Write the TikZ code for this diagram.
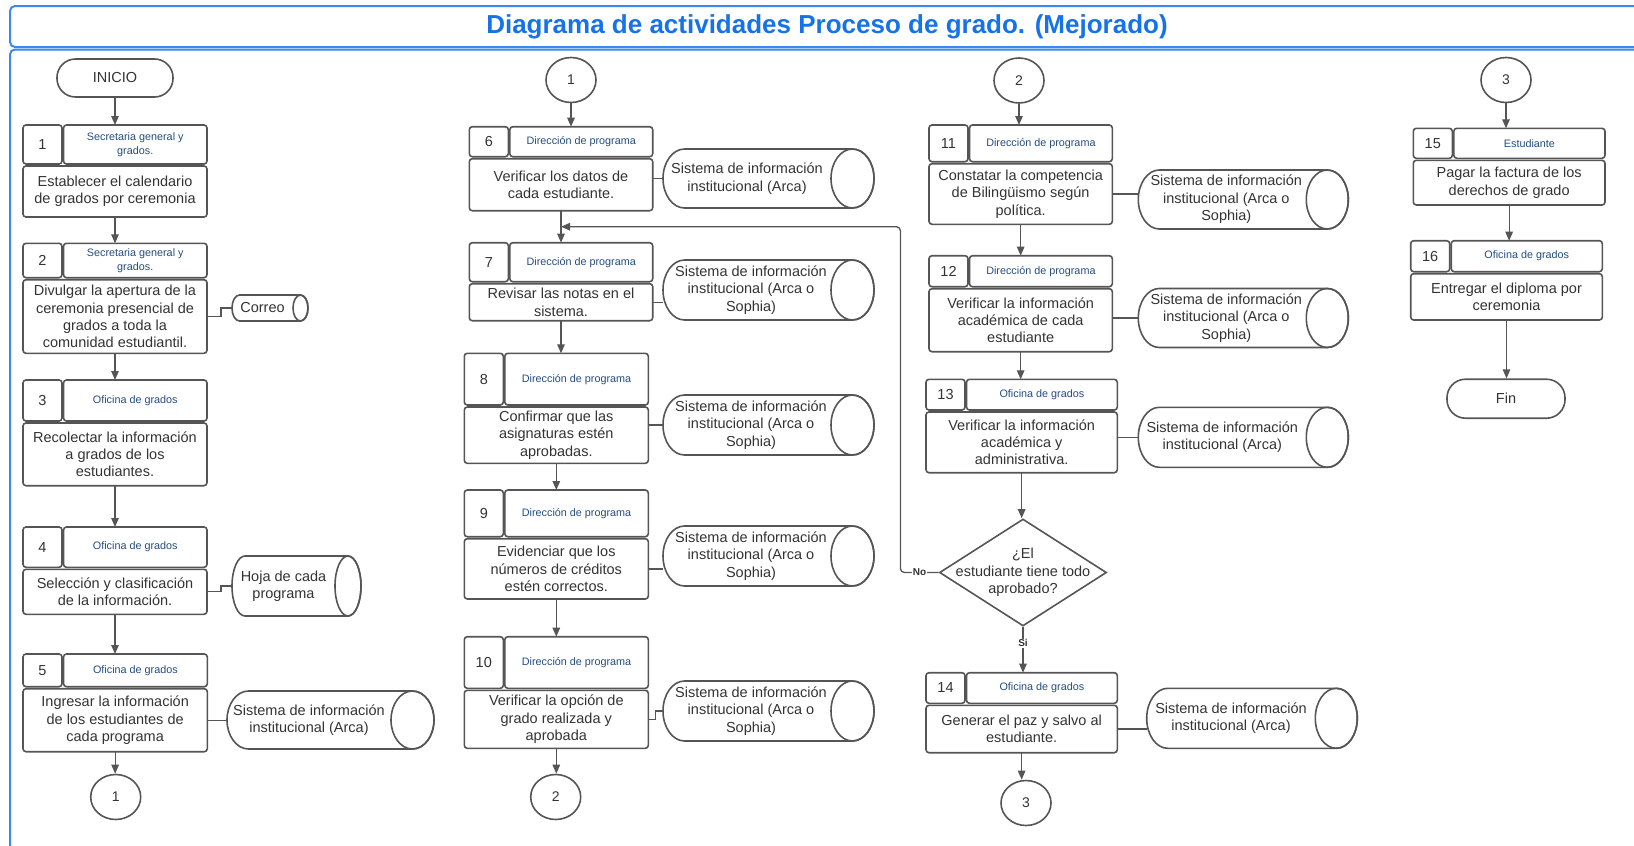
\documentclass[tikz,border=0pt]{standalone}
\usepackage{fontspec}
\setmainfont{Liberation Sans}
\usetikzlibrary{arrows.meta,shapes.geometric,calc}

\definecolor{frameblue}{RGB}{59,137,238}
\definecolor{titleblue}{RGB}{22,114,232}
\definecolor{headblue}{RGB}{36,77,128}
\definecolor{edge}{RGB}{85,85,85}
\definecolor{ink}{RGB}{51,51,51}

\tikzset{
  cell/.style={draw=edge, line width=1.6pt, rounded corners=3pt, inner sep=0pt, outer sep=0pt, fill=white},
  numcell/.style={cell, text=ink, font=\fontsize{14.5}{17}\selectfont},
  headcell/.style={cell, text=headblue, align=center, font=\fontsize{10.8}{14}\selectfont},
  bodycell/.style={cell, text=ink, align=center, font=\fontsize{14.5}{17.3}\selectfont},
  conn/.style={draw=edge, line width=1.3pt},
  flow/.style={conn, -{Triangle[length=9pt,width=7.5pt]}},
  terminal/.style={draw=edge, line width=1.6pt, rounded corners=18.5pt, inner sep=0pt,
    minimum width=116pt, minimum height=38pt, text=ink, font=\fontsize{14.5}{17}\selectfont},
  offpage/.style={ellipse, draw=edge, line width=1.6pt, inner sep=0pt,
    minimum width=50pt, minimum height=45pt, text=ink, font=\fontsize{14}{17}\selectfont},
  decision/.style={diamond, draw=edge, line width=1.6pt, inner sep=0pt,
    minimum width=167pt, minimum height=107pt},
  decisiontext/.style={align=center, text=ink, inner sep=0pt, font=\fontsize{14.5}{17.5}\selectfont},
  storebox/.style={draw=none, inner sep=0pt, outer sep=0pt},
  storeline/.style={draw=edge, line width=1.6pt},
  storetext/.style={align=center, text=ink, inner sep=0pt, font=\fontsize{14.5}{17.5}\selectfont},
  branch/.style={fill=white, inner sep=1pt, text=ink, font=\bfseries\fontsize{10}{12}\selectfont},
  frameline/.style={draw=frameblue, line width=2pt, rounded corners=5pt},
  title/.style={text=titleblue, font=\bfseries\fontsize{26}{30}\selectfont, inner sep=0pt}
}

% activity: name, left, right, header top, header bottom, body bottom, number, role, task
\newcommand{\activity}[9]{%
  \node[numcell, minimum width=39pt, minimum height={(#5-#4)*1pt}]
    (#1n) at ({#2+19.5},{(#4+#5)/2}) {#7};
  \node[headcell, minimum width={(#3-#2-40.5)*1pt}, minimum height={(#5-#4)*1pt}]
    (#1h) at ({(#2+40.5+#3)/2},{(#4+#5)/2}) {#8};
  \node[bodycell, minimum width={(#3-#2)*1pt}, minimum height={(#6-#5-2)*1pt}]
    (#1) at ({(#2+#3)/2},{(#5+2+#6)/2}) {#9};
}

% data store drawn as a lying cylinder:
% name, cx, cy, width, height, end radius, text shift, text
\newcommand{\datastore}[8]{%
  \node[storebox, minimum width=#4pt, minimum height=#5pt] (#1) at (#2,#3) {};
  \draw[storeline] ([xshift=#6pt]#1.north west) -- ([xshift=-#6pt]#1.north east)
    arc[start angle=90, end angle=-90, x radius=#6pt, y radius={#5/2*1pt}]
    -- ([xshift=#6pt]#1.south west)
    arc[start angle=270, end angle=90, x radius=#6pt, y radius={#5/2*1pt}] -- cycle;
  \draw[storeline] ([xshift=-#6pt]#1.east) ellipse[x radius=#6pt, y radius={#5/2*1pt}];
  \node[storetext] (#1t) at ([xshift={(#7-#6)*1pt}]#1.center) {#8};
}

\newcommand{\arca}{Sistema de información\\institucional (Arca)}
\newcommand{\arcasophia}{Sistema de información\\institucional (Arca o\\Sophia)}

\begin{document}
\begin{tikzpicture}[x=1pt, y=-1pt]
\useasboundingbox (0,0) rectangle (1634,846);

% page frame
\begin{scope}
  \clip (0,0) rectangle (1634,846);
  \draw[frameline] (10,6) rectangle (1680,47);
  \draw[frameline] (10,49.5) rectangle (1680,900);
\end{scope}
\node[title] (ttl) at (827,27) {Diagrama de actividades Proceso de grado. (Mejorado)};

% ---------- column 1 ----------
\node[terminal] (ini) at (115,78) {INICIO};
\activity{b1}{23}{207}{125}{164}{217}{1}{Secretaria general y\\grados.}{Establecer el calendario\\de grados por ceremonia}
\activity{b2}{23}{207}{243.3}{277.7}{353.3}{2}{Secretaria general y\\grados.}{Divulgar la apertura de la\\ceremonia presencial de\\grados a toda la\\comunidad estudiantil.}
\activity{b3}{23}{207}{380}{421}{485.7}{3}{Oficina de grados}{Recolectar la información\\a grados de los\\estudiantes.}
\activity{b4}{23}{207}{527}{567.3}{614.3}{4}{Oficina de grados}{Selección y clasificación\\de la información.}
\activity{b5}{23}{207.3}{654}{686.7}{751.7}{5}{Oficina de grados}{Ingresar la información\\de los estudiantes de\\cada programa}
\node[offpage] (k1b) at (115.7,797) {1};

\datastore{c2}{270}{308}{76}{26}{7.5}{0}{Correo}
\datastore{c4}{296.5}{586}{129}{60}{13}{0}{Hoja de cada\\programa}
\datastore{c5}{330.5}{720}{207}{58}{21.5}{0}{\arca}

\draw[flow] (ini.south) -- (ini.south |- b1h.north);
\draw[flow] (b1.south) -- (b1.south |- b2h.north);
\draw[flow] (b2.south) -- (b2.south |- b3h.north);
\draw[flow] (b3.south) -- (b3.south |- b4h.north);
\draw[flow] (b4.south) -- (b4.south |- b5h.north);
\draw[flow] (b5.south) -- (b5.south |- k1b.north);
\draw[conn] (b2.east) -- ++(14,0) |- (c2.west);
\draw[conn] (b4.east) -- ++(14,0) |- (c4.west);
\draw[conn] (b5.east) -- (b5.east -| c5.west);

% ---------- column 2 ----------
\node[offpage] (k1t) at (571,80) {1};
\activity{b6}{469.3}{652.7}{126.7}{156.7}{210.7}{6}{Dirección de programa}{Verificar los datos de\\cada estudiante.}
\activity{b7}{469.3}{652.7}{242.7}{281.7}{320.7}{7}{Dirección de programa}{Revisar las notas en el\\sistema.}
\activity{b8}{464.3}{648.3}{353.3}{405}{463.3}{8}{Dirección de programa}{Confirmar que las\\asignaturas estén\\aprobadas.}
\activity{b9}{464.3}{648.3}{490}{536.7}{599}{9}{Dirección de programa}{Evidenciar que los\\números de créditos\\estén correctos.}
\activity{b10}{464.3}{648.3}{636.7}{688.3}{748.3}{10}{Dirección de programa}{Verificar la opción de\\grado realizada y\\aprobada}
\node[offpage] (k2b) at (555.7,797) {2};

\datastore{c6}{768.5}{178.5}{211}{59}{21.5}{0}{\arca}
\datastore{c7}{768.5}{290}{211}{60}{21.5}{4}{\arcasophia}
\datastore{c8}{768.5}{425}{211}{60}{21.5}{4}{\arcasophia}
\datastore{c9}{768.5}{556}{211}{60}{21.5}{4}{\arcasophia}
\datastore{c10}{768.5}{711}{211}{60}{21.5}{4}{\arcasophia}

\coordinate (j67) at ($(b6.south)!0.5!(b6.south |- b7h.north)$);
\draw[flow] (k1t.south) -- (k1t.south |- b6h.north);
\draw[flow] (b6.south) -- (b6.south |- b7h.north);
\draw[flow] (b7.south) -- (b7.south |- b8h.north);
\draw[flow] (b8.south) -- (b8.south |- b9h.north);
\draw[flow] (b9.south) -- (b9.south |- b10h.north);
\draw[flow] (b10.south) -- (b10.south |- k2b.north);
\draw[conn] (c6.west -| b6.east) -- (c6.west);
\draw[conn] (b7.east) -- (b7.east -| c7.west);
\draw[conn] (c8.west -| b8.east) -- (c8.west);
\draw[conn] (b9.east) -- (b9.east -| c9.west);
\draw[conn] (b10.east) -- ++(7,0) |- (c10.west);

% ---------- column 3 ----------
\node[offpage] (k2t) at (1019,80.5) {2};
\activity{b11}{929}{1112.3}{125}{161.7}{224.3}{11}{Dirección de programa}{Constatar la competencia\\de Bilingüismo según\\política.}
\activity{b12}{929}{1112.3}{255.7}{286.7}{351.7}{12}{Dirección de programa}{Verificar la información\\académica de cada\\estudiante}
\activity{b13}{926}{1117.3}{379.3}{410}{472.7}{13}{Oficina de grados}{Verificar la información\\académica y\\administrativa.}
\node[decision] (dia) at (1023,572.5) {};
\node[decisiontext] (diat) at (dia.center) {¿El\\estudiante tiene todo\\aprobado?};
\activity{b14}{926}{1117.3}{672.7}{703.3}{752.7}{14}{Oficina de grados}{Generar el paz y salvo al\\estudiante.}
\node[offpage] (k3b) at (1026,803) {3};

\datastore{c11}{1243.3}{199.5}{210}{59}{21}{4}{\arcasophia}
\datastore{c12}{1243.3}{318}{210}{59}{21}{4}{\arcasophia}
\datastore{c13}{1243.3}{437.3}{210}{60}{21}{0}{\arca}
\datastore{c14}{1252}{718.3}{210.6}{60}{21}{0}{\arca}

\draw[flow] (k2t.south) -- (k2t.south |- b11h.north);
\draw[flow] (b11.south) -- (b11.south |- b12h.north);
\draw[flow] (b12.south) -- (b12.south |- b13h.north);
\draw[flow] (b13.south) -- (b13.south |- dia.north);
\draw[flow] (dia.south) -- node[branch, pos=0.36] {Si} (dia.south |- b14h.north);
\draw[flow] (b14.south) -- (b14.south |- k3b.north);
\draw[flow, rounded corners=4pt] (dia.west) -- node[branch] {No} ++(-38.3,0) |- (j67);
\draw[conn] (b11.east) -- (b11.east -| c11.west);
\draw[conn] (c12.west -| b12.east) -- (c12.west);
\draw[conn] (c13.west -| b13.east) -- (c13.west);
\draw[conn] (b14.east) -- (b14.east -| c14.west);

% ---------- column 4 ----------
\node[offpage] (k3t) at (1506,80) {3};
\activity{b15}{1413.3}{1605}{128.3}{158.3}{205}{15}{Estudiante}{Pagar la factura de los\\derechos de grado}
\activity{b16}{1410.7}{1602.3}{240.7}{271.7}{320}{16}{Oficina de grados}{Entregar el diploma por\\ceremonia}
\node[terminal, minimum width=118pt, minimum height=39pt] (fin) at (1506,398.7) {Fin};

\draw[flow] (k3t.south) -- (k3t.south |- b15h.north);
\draw[flow] (b15.south) -- (b15.south |- b16h.north);
\draw[flow] (b16.south) -- (b16.south |- fin.north);
\end{tikzpicture}
\end{document}
